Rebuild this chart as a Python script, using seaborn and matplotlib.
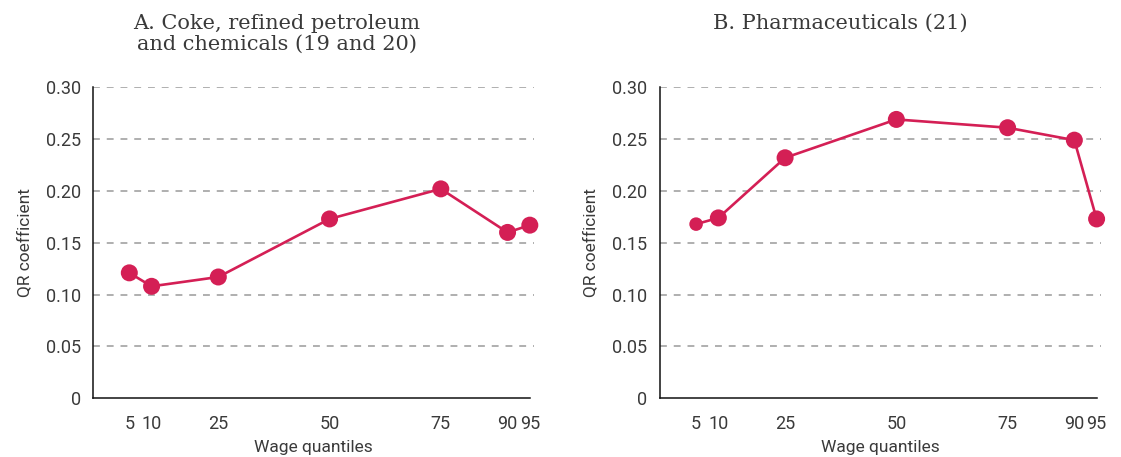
import matplotlib
matplotlib.use("Agg")
import matplotlib.pyplot as plt
import seaborn as sns
import pandas as pd

# Wage quantiles on the horizontal axis
quantiles = [5, 10, 25, 50, 75, 90, 95]
tick_labels = ["5", "10", "25", "50", "75", "90", "95"]

# Quantile-regression coefficients by panel
coef_chemicals = [0.121, 0.108, 0.117, 0.173, 0.202, 0.160, 0.167]
coef_pharma = [0.168, 0.174, 0.232, 0.269, 0.261, 0.249, 0.173]

# Marker area per point (the 5th-percentile pharma estimate is drawn smaller)
marker_area_chemicals = [150, 150, 150, 150, 150, 150, 150]
marker_area_pharma = [95, 150, 150, 150, 150, 150, 150]

titles = ["A. Coke, refined petroleum\nand chemicals (19 and 20)",
          "B. Pharmaceuticals (21)"]
y_ticks = [0, 0.05, 0.10, 0.15, 0.20, 0.25, 0.30]
y_tick_labels = ["0", "0.05", "0.10", "0.15", "0.20", "0.25", "0.30"]

sns.set_theme(style="white")
plt.rcParams["font.family"] = ["Roboto", "DejaVu Sans"]

RED = "#d41f55"
TEXT = "#3a3a3a"

fig = plt.figure(figsize=(11.21, 4.57), dpi=100)
axes = [fig.add_axes([0.0832, 0.1285, 0.3934, 0.6805]),
        fig.add_axes([0.5888, 0.1285, 0.3934, 0.6805])]

panels = [(coef_chemicals, marker_area_chemicals),
          (coef_pharma, marker_area_pharma)]

for ax, (coef, area), title, tx in zip(axes, panels, titles, [0.247, 0.750]):
    df = pd.DataFrame({"quantile": quantiles, "coef": coef, "area": area})
    for yv in y_ticks[1:]:
        ax.axhline(yv, color="#9a9a9a", lw=1.1, ls=(0, (4.5, 4.5)), zorder=0)
    sns.lineplot(data=df, x="quantile", y="coef", ax=ax, color=RED,
                 lw=1.9, zorder=2)
    sns.scatterplot(data=df, x="quantile", y="coef", ax=ax, color=RED,
                    s=df["area"].tolist(), edgecolor="none", zorder=3,
                    legend=False, clip_on=False)
    ax.set_xlim(-3.1, 96)
    ax.set_ylim(0, 0.30)
    ax.set_xticks(quantiles)
    ax.set_xticklabels(tick_labels)
    ax.set_yticks(y_ticks)
    ax.set_yticklabels(y_tick_labels)
    ax.spines["top"].set_visible(False)
    ax.spines["right"].set_visible(False)
    ax.spines["bottom"].set_bounds(-3.1, 95)
    for s in ("left", "bottom"):
        ax.spines[s].set_color("#111111")
        ax.spines[s].set_linewidth(1.1)
    ax.tick_params(axis="both", direction="out", length=6, width=1.1,
                   color="#111111", labelsize=13, labelcolor=TEXT, pad=3)
    ax.tick_params(axis="x", pad=6)
    ax.set_xlabel("Wage quantiles", fontsize=12.5, color=TEXT, labelpad=5)
    ax.set_ylabel("QR coefficient", fontsize=12.5, color=TEXT, labelpad=10)
    fig.text(tx, 0.97, title, ha="center", va="top", fontsize=15,
             color=TEXT, family=["DejaVu Serif"], fontweight="light",
             linespacing=1.15)

fig.savefig("out.png", dpi=100)
